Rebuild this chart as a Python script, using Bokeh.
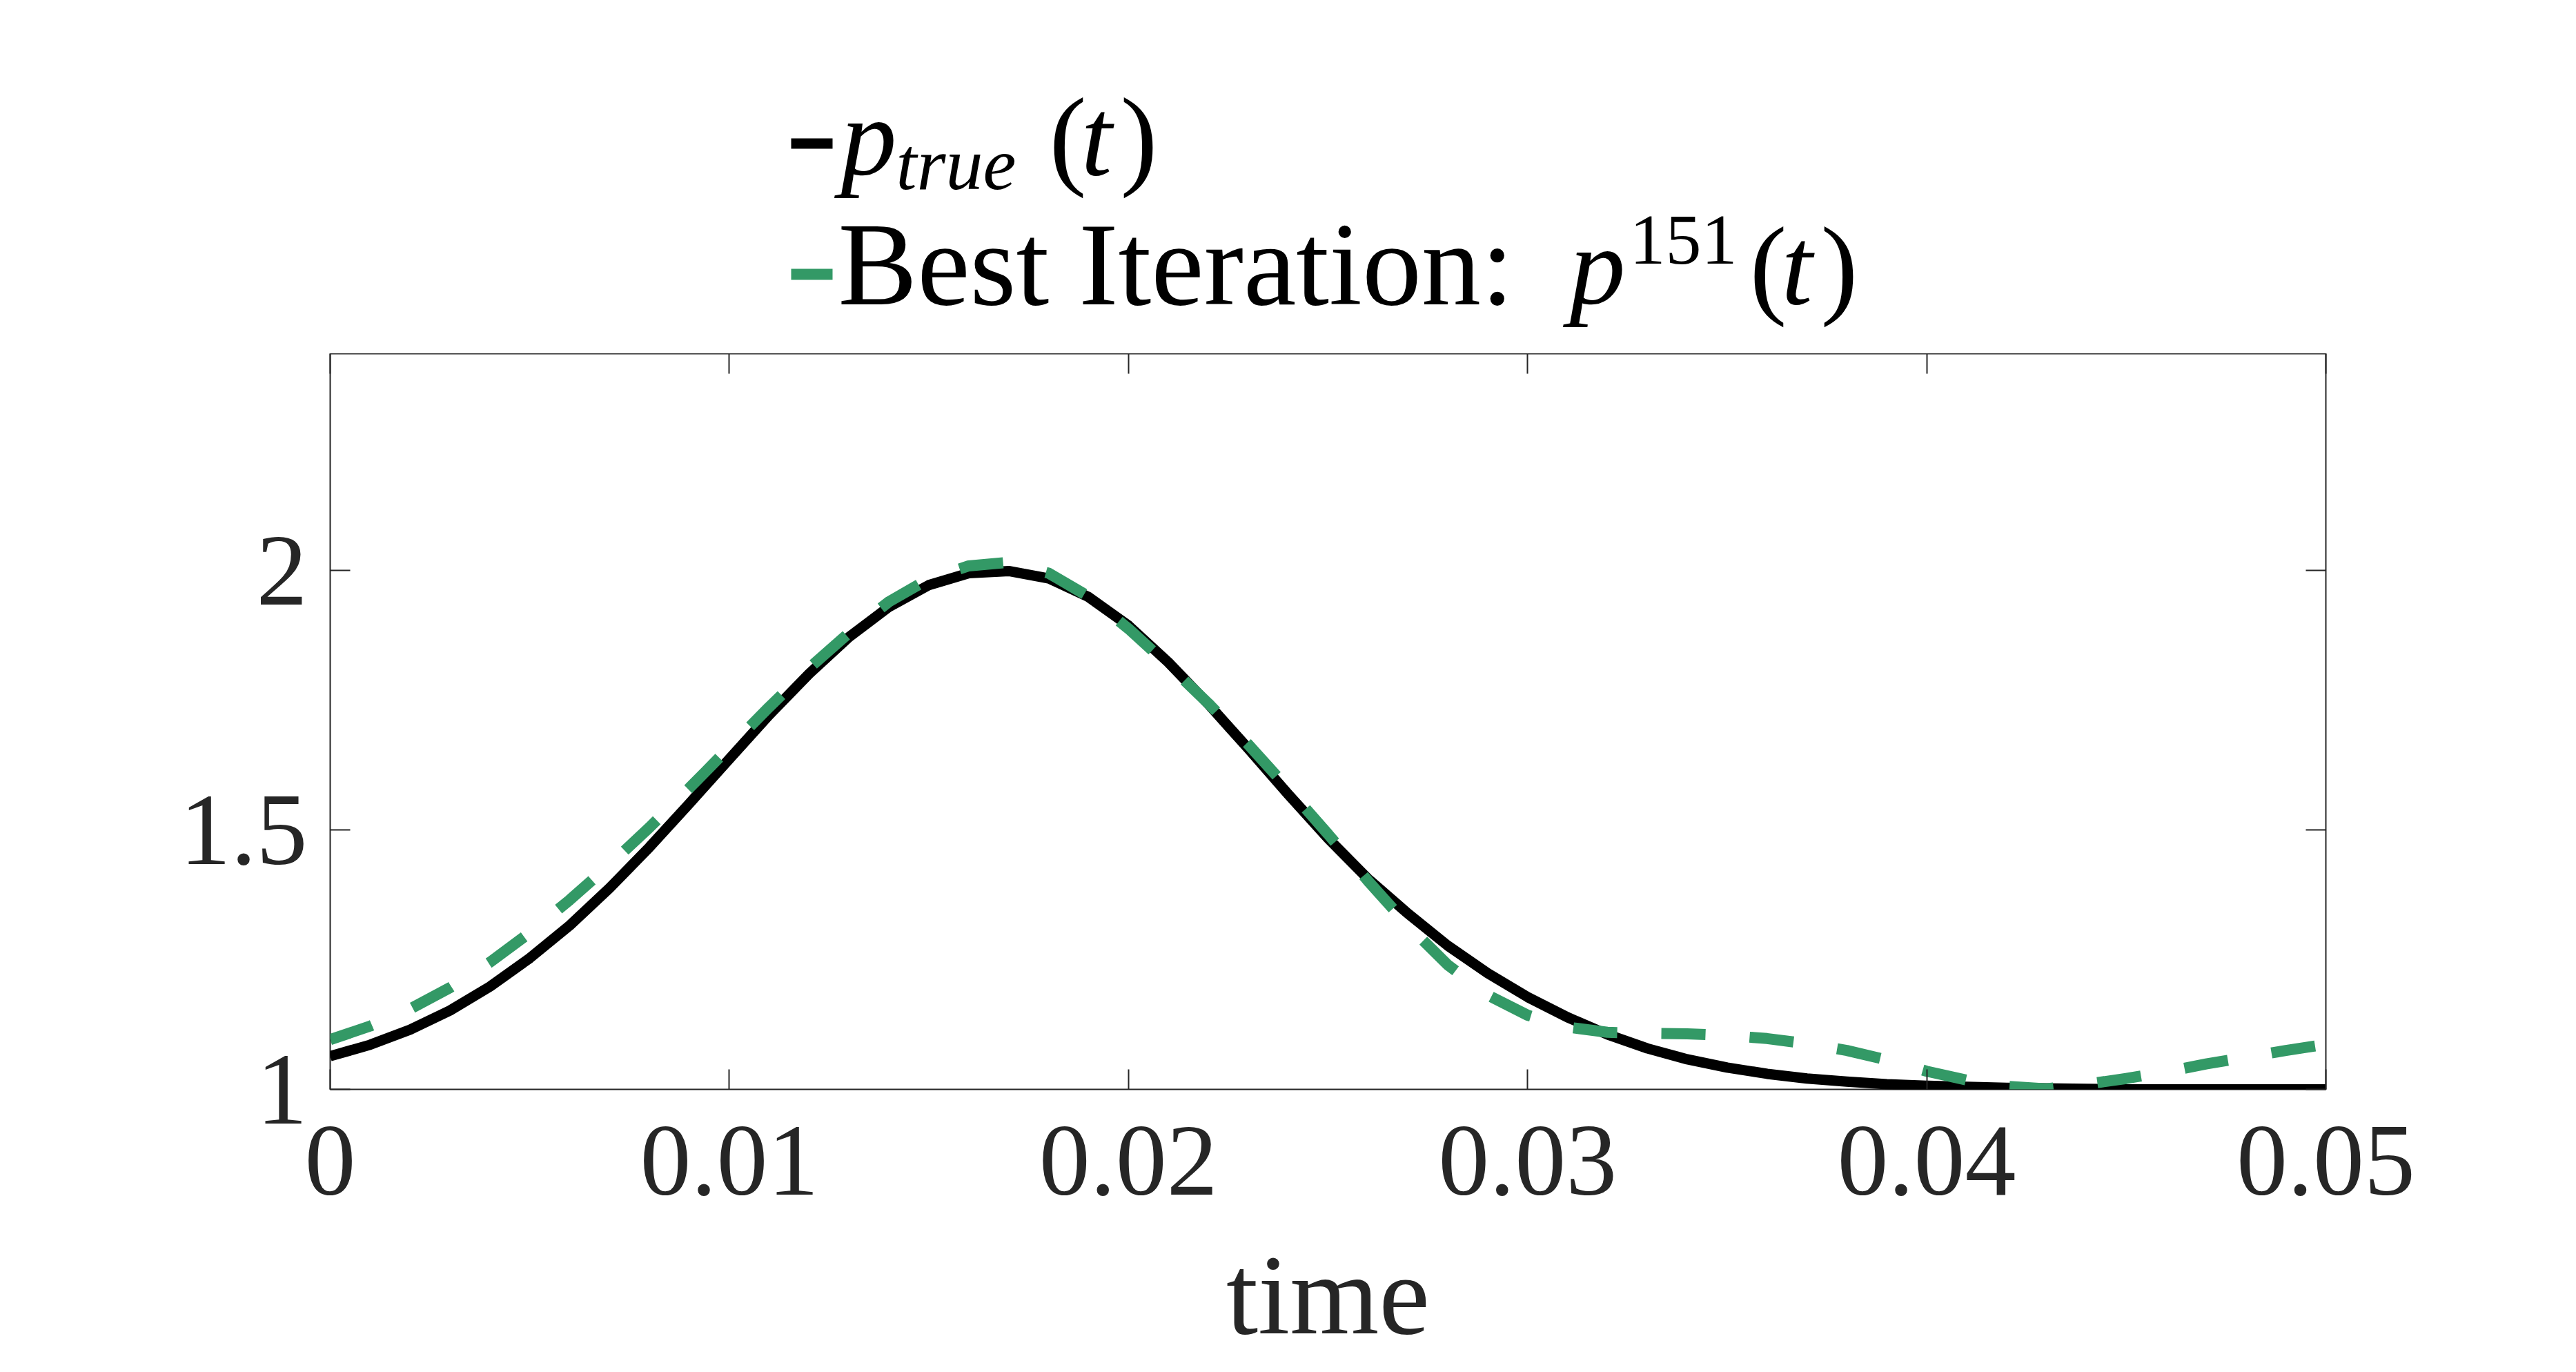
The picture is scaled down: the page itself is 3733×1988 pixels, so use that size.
from bokeh.plotting import figure
from bokeh.layouts import column
from bokeh.models import (Range1d, LinearAxis, FixedTicker, CustomJSTickFormatter,
                          ColumnDataSource)
from bokeh.core.properties import value
from bokeh.embed import file_html
from bokeh.resources import INLINE

# ---------------- data ----------------
time = [0.000, 0.001, 0.002, 0.003, 0.004, 0.005, 0.006, 0.007, 0.008, 0.009,
        0.010, 0.011, 0.012, 0.013, 0.014, 0.015, 0.016, 0.017, 0.018, 0.019,
        0.020, 0.021, 0.022, 0.023, 0.024, 0.025, 0.026, 0.027, 0.028, 0.029,
        0.030, 0.031, 0.032, 0.033, 0.034, 0.035, 0.036, 0.037, 0.038, 0.039,
        0.040, 0.041, 0.042, 0.043, 0.044, 0.045, 0.046, 0.047, 0.048, 0.049,
        0.050]

p_true = [1.064, 1.086, 1.115, 1.152, 1.198, 1.253, 1.316, 1.388, 1.467, 1.551,
          1.637, 1.722, 1.801, 1.872, 1.930, 1.972, 1.995, 1.999, 1.985, 1.949,
          1.894, 1.823, 1.743, 1.657, 1.569, 1.484, 1.406, 1.339, 1.277, 1.224,
          1.178, 1.139, 1.106, 1.079, 1.058, 1.042, 1.030, 1.021, 1.015, 1.010,
          1.007, 1.005, 1.003, 1.002, 1.001, 1.000, 1.000, 1.000, 1.000, 1.000,
          1.000]

p_best = [1.096, 1.122, 1.155, 1.196, 1.245, 1.302, 1.365, 1.433, 1.505, 1.581,
          1.659, 1.737, 1.812, 1.880, 1.940, 1.984, 2.009, 2.016, 1.995, 1.950,
          1.888, 1.818, 1.744, 1.665, 1.580, 1.492, 1.402, 1.316, 1.240, 1.182,
          1.143, 1.120, 1.110, 1.108, 1.107, 1.104, 1.098, 1.088, 1.075, 1.057,
          1.035, 1.018, 1.006, 1.001, 1.010, 1.021, 1.034, 1.049, 1.062, 1.075,
          1.087]

x_ticks = [0, 0.01, 0.02, 0.03, 0.04, 0.05]
y_ticks = [1, 1.5, 2]
x_label = "time"
best_iter = "151"
legend_best_text = "Best Iteration:"

# ---------------- layout constants ----------------
W = 3717
TOP_H = 512            # legend strip: page y 8 .. 520
MAIN_H = 1972 - TOP_H
BL, BR = 478, 347      # left / right borders (frame spans page x 486 .. 3378)
FX0, FX1 = 8 + BL, 8 + W - BR
SERIF = "Liberation Serif"
AXC = "#262626"
GREEN = "#339966"
BASE_SHIFT = 0.30      # renderer places the text this many em below the given y

# ---------------- legend strip (coordinates = page pixels) ----------------
leg = figure(width=W, height=TOP_H, output_backend="svg", toolbar_location=None,
             x_range=Range1d(FX0, FX1), y_range=Range1d(8 + TOP_H, 8),
             x_axis_type=None, y_axis_type=None,
             min_border_left=BL, min_border_right=BR,
             min_border_top=0, min_border_bottom=0,
             background_fill_color="white", border_fill_color="white")
leg.grid.visible = False
leg.outline_line_color = None


def lab(text, X, Y, size, italic=False):
    leg.text(x=[X], y=[Y - BASE_SHIFT * size], text=[text], text_font=value(SERIF),
             text_font_size=value(f"{size}px"),
             text_font_style="italic" if italic else "normal",
             text_color="black", text_align="left", text_baseline="alphabetic")


# legend samples
leg.quad(left=[1154], right=[1214], top=[208], bottom=[223],
         fill_color="black", line_color=None)
leg.quad(left=[1154], right=[1214], top=[397], bottom=[413],
         fill_color=GREEN, line_color=None)

# row 1: p_true(t)
lab("p", 1226, 255, 162, italic=True)
lab("true", 1306, 277, 108, italic=True)
lab("(", 1528, 255, 162)
lab("t", 1574, 255, 162, italic=True)
lab(")", 1631, 255, 162)

# row 2: Best Iteration: p^151(t)
lab(legend_best_text, 1222, 442, 172)
lab("p", 2282, 442, 162, italic=True)
lab(best_iter, 2369, 387, 104)
lab("(", 2543, 442, 162)
lab("t", 2589, 442, 162, italic=True)
lab(")", 2646, 442, 162)

# ---------------- main plot ----------------
p = figure(width=W, height=MAIN_H, output_backend="svg", toolbar_location=None,
           x_range=Range1d(0, 0.05), y_range=Range1d(1, 2.418),
           min_border_left=BL, min_border_right=BR,
           min_border_top=0, min_border_bottom=394,
           background_fill_color="white", border_fill_color="white")
p.grid.visible = False
p.outline_line_color = AXC
p.outline_line_width = 2

src = ColumnDataSource(dict(t=time, ptrue=p_true, pbest=p_best))
p.line("t", "ptrue", source=src, line_color="black", line_width=15,
       line_join="round")
p.line("t", "pbest", source=src, line_color=GREEN, line_width=16,
       line_dash="64 64")

fmt = CustomJSTickFormatter(code="return tick.toString();")
blank = CustomJSTickFormatter(code="return '';")

for ax in p.xaxis + p.yaxis:
    ax.major_tick_in = 29
    ax.major_tick_out = 0
    ax.minor_tick_line_color = None
    ax.axis_line_color = None
    ax.major_tick_line_color = AXC
    ax.major_tick_line_width = 2
    ax.major_label_text_font = SERIF
    ax.major_label_text_font_size = "148px"
    ax.major_label_text_color = AXC
    ax.formatter = fmt

p.xaxis.ticker = FixedTicker(ticks=x_ticks)
p.yaxis.ticker = FixedTicker(ticks=y_ticks)
p.xaxis.major_label_standoff = 54
p.yaxis.major_label_standoff = 33
p.xaxis.axis_label = x_label
p.xaxis.axis_label_text_font = SERIF
p.xaxis.axis_label_text_font_size = "166px"
p.xaxis.axis_label_text_font_style = "normal"
p.xaxis.axis_label_text_color = AXC
p.xaxis.axis_label_standoff = 50

top_ax = LinearAxis(ticker=FixedTicker(ticks=x_ticks), formatter=blank)
right_ax = LinearAxis(ticker=FixedTicker(ticks=y_ticks), formatter=blank)
for ax in (top_ax, right_ax):
    ax.major_tick_in = 29
    ax.major_tick_out = 0
    ax.minor_tick_line_color = None
    ax.axis_line_color = None
    ax.major_tick_line_color = AXC
    ax.major_tick_line_width = 2
    ax.major_label_text_font_size = "1px"
    ax.major_label_standoff = 0
p.add_layout(top_ax, "above")
p.add_layout(right_ax, "right")

layout = column(leg, p, spacing=0)
open("out.html", "w").write(file_html(layout, INLINE))
